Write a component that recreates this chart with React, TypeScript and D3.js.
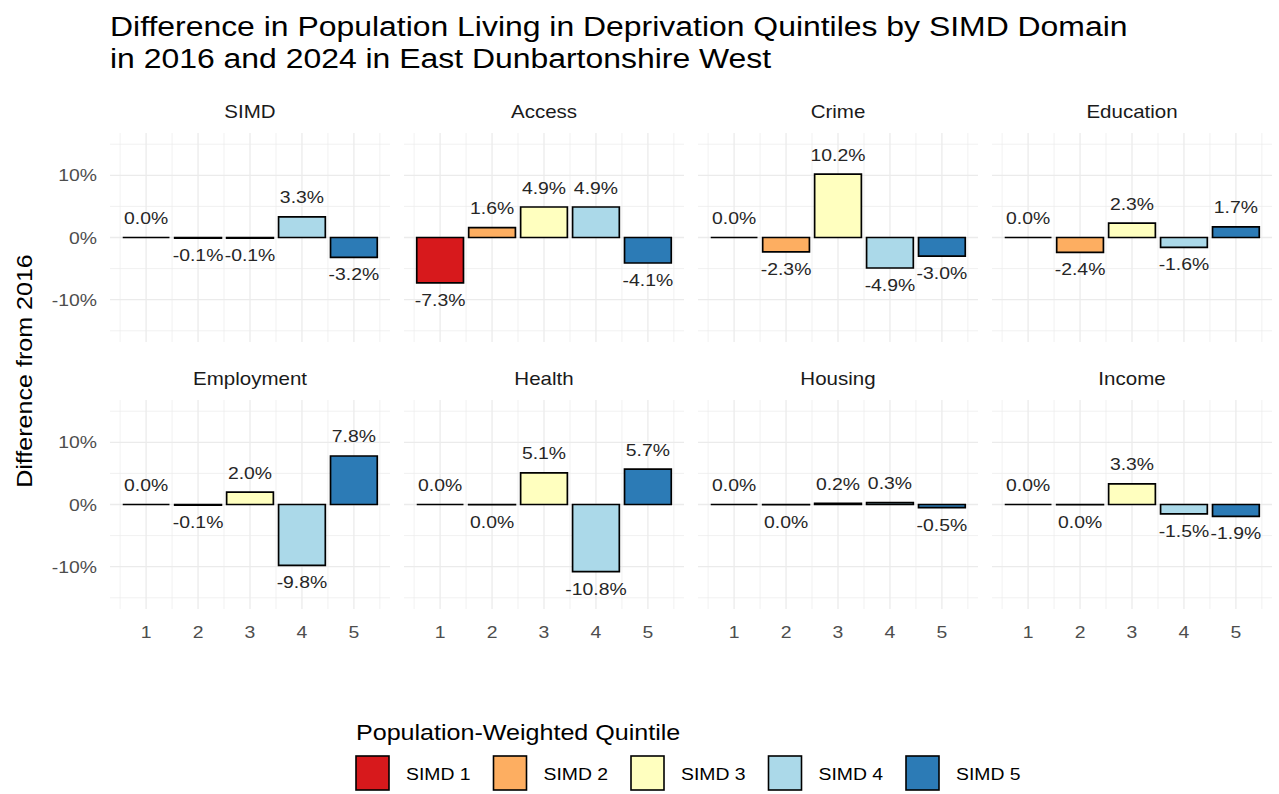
import React from "react";
import * as d3 from "d3";

const domainNames = ["SIMD", "Access", "Crime", "Education", "Employment", "Health", "Housing", "Income"];
const quintiles = [1, 2, 3, 4, 5];
const simdVals = [0.0, -0.1, -0.1, 3.3, -3.2];
const accessVals = [-7.3, 1.6, 4.9, 4.9, -4.1];
const crimeVals = [0.0, -2.3, 10.2, -4.9, -3.0];
const educationVals = [0.0, -2.4, 2.3, -1.6, 1.7];
const employmentVals = [0.0, -0.1, 2.0, -9.8, 7.8];
const healthVals = [0.0, -0.02, 5.1, -10.8, 5.7];
const housingVals = [0.0, -0.02, 0.2, 0.3, -0.5];
const incomeVals = [0.0, -0.02, 3.3, -1.5, -1.9];
const yTicks = [-10, 0, 10];
const yMinor = [-15, -5, 5, 15];
const legendLabels = ["SIMD 1", "SIMD 2", "SIMD 3", "SIMD 4", "SIMD 5"];
const fillColors = ["#d7191c", "#fdae61", "#ffffbf", "#abd9e9", "#2c7bb6"];

const seriesByDomain = [simdVals, accessVals, crimeVals, educationVals, employmentVals, healthVals, housingVals, incomeVals];

const FONT = "'Liberation Sans', Arial, Helvetica, sans-serif";
const SX = 1.14;
const W = 1279;
const H = 794;
const PX0 = 110;
const PSTEP = 294;
const PW = 280;
const PH = 209;
const ROWTOP = [133, 400];

function fmt(v: number) {
  const s = Math.abs(v) < 0.05 ? "0.0" : v.toFixed(1);
  return s + "%";
}

function T({
  x,
  y,
  size,
  fill = "#000",
  anchor = "start",
  rotate = 0,
  children,
}: {
  x: number;
  y: number;
  size: number;
  fill?: string;
  anchor?: string;
  rotate?: number;
  children: React.ReactNode;
}) {
  return (
    <text
      transform={`translate(${x},${y}) rotate(${rotate}) scale(${SX},1)`}
      textAnchor={anchor}
      fontSize={size}
      fill={fill}
      fontFamily={FONT}
    >
      {children}
    </text>
  );
}

function Panel({ idx }: { idx: number }) {
  const col = idx % 4;
  const row = Math.floor(idx / 4);
  const x0 = PX0 + col * PSTEP;
  const top = ROWTOP[row];
  const x = d3.scaleLinear().domain([0.305, 5.695]).range([x0, x0 + PW]);
  const y = d3.scaleLinear().domain([-16.8, 16.8]).range([top + PH, top]);
  const vals = seriesByDomain[idx];
  const xMinor = [0.5, 1.5, 2.5, 3.5, 4.5, 5.5];
  const grid = "#ebebeb";
  return (
    <g>
      {yMinor.map((t) => (
        <line key={"ym" + t} x1={x0} x2={x0 + PW} y1={y(t)} y2={y(t)} stroke={grid} strokeWidth={0.7} />
      ))}
      {xMinor.map((t) => (
        <line key={"xm" + t} x1={x(t)} x2={x(t)} y1={top} y2={top + PH} stroke={grid} strokeWidth={0.7} />
      ))}
      {yTicks.map((t) => (
        <line key={"y" + t} x1={x0} x2={x0 + PW} y1={y(t)} y2={y(t)} stroke={grid} strokeWidth={1.3} />
      ))}
      {quintiles.map((q) => (
        <line key={"x" + q} x1={x(q)} x2={x(q)} y1={top} y2={top + PH} stroke={grid} strokeWidth={1.3} />
      ))}
      <T x={x0 + PW / 2} y={top - 15} size={18} fill="#1a1a1a" anchor="middle">
        {domainNames[idx]}
      </T>
      {quintiles.map((q, i) => {
        const v = vals[i];
        const yt = y(Math.max(0, v));
        const yb = y(Math.min(0, v));
        const xl = x(q - 0.45);
        const xr = x(q + 0.45);
        return (
          <path
            key={"b" + q}
            d={`M${xl},${yt}L${xr},${yt}L${xr},${yb}L${xl},${yb}Z`}
            fill={fillColors[i]}
            stroke="#000"
            strokeWidth={1.7}
          />
        );
      })}
      {quintiles.map((q, i) => {
        const v = vals[i];
        const pos = v >= 0;
        const ty = pos ? y(v) - 13.5 : y(v) + 23;
        return (
          <T key={"l" + q} x={x(q)} y={ty} size={17} fill="#262626" anchor="middle">
            {fmt(v)}
          </T>
        );
      })}
      {col === 0 &&
        yTicks.map((t) => (
          <T key={"yt" + t} x={x0 - 13} y={y(t) + 6} size={17} fill="#4d4d4d" anchor="end">
            {t + "%"}
          </T>
        ))}
      {row === 1 &&
        quintiles.map((q) => (
          <T key={"xt" + q} x={x(q)} y={top + PH + 29} size={17} fill="#4d4d4d" anchor="middle">
            {String(q)}
          </T>
        ))}
    </g>
  );
}

export default function App() {
  const legendX0 = 356;
  const legendStep = 137.5;
  return (
    <svg width={W} height={H} style={{ position: "absolute", left: 0, top: 0, background: "#fff" }}>
      <rect x={0} y={0} width={W} height={H} fill="#fff" />
      <T x={110} y={36} size={28}>
        Difference in Population Living in Deprivation Quintiles by SIMD Domain
      </T>
      <T x={110} y={68} size={28}>
        in 2016 and 2024 in East Dunbartonshire West
      </T>
      {domainNames.map((d, i) => (
        <Panel key={d} idx={i} />
      ))}
      <T x={32} y={(ROWTOP[0] + ROWTOP[1] + PH) / 2} size={22} anchor="middle" rotate={-90}>
        Difference from 2016
      </T>
      <T x={legendX0} y={740} size={22}>
        Population-Weighted Quintile
      </T>
      {legendLabels.map((l, i) => (
        <g key={l}>
          <rect x={legendX0 + i * legendStep} y={756} width={33} height={34} fill={fillColors[i]} stroke="#000" strokeWidth={1.6} />
          <T x={legendX0 + i * legendStep + 50} y={780} size={17}>
            {l}
          </T>
        </g>
      ))}
    </svg>
  );
}
